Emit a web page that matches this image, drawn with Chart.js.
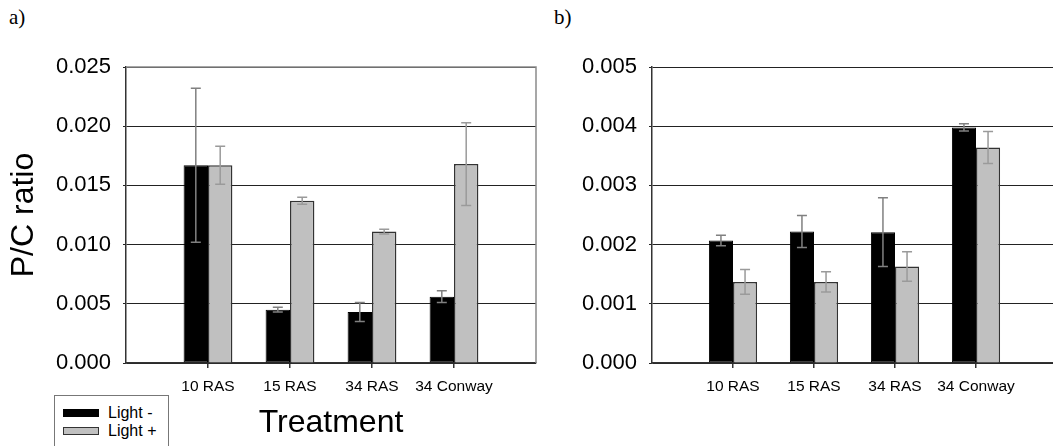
<!DOCTYPE html>
<html>
<head>
<meta charset="utf-8">
<script src="https://cdn.jsdelivr.net/npm/chart.js@4"></script>
<style>
  html, body { margin: 0; padding: 0; background: #fff; overflow: hidden; }
  body { width: 1053px; height: 446px; position: relative; font-family: "Liberation Sans", Arial, sans-serif; }
  canvas { position: absolute; top: 0; }
  #chartA { left: 0; }
  #chartB { left: 545px; }
  .panel-tag { position: absolute; top: 5px; font-family: "Liberation Serif", "Times New Roman", serif; font-size: 21px; color: #000; }
  #legendA { position: absolute; left: 54px; top: 395px; width: 115px; height: 60px; border: 1.5px solid #777; box-sizing: border-box; background: #fff; }
  .legend-item { position: absolute; left: 8px; height: 16px; display: flex; align-items: center; font-size: 16px; color: #000; }
  .legend-item .swatch { width: 36px; height: 8px; box-sizing: border-box; margin-right: 9px; }
</style>
</head>
<body>
<div class="panel-tag" style="left: 9px;">a)</div>
<div class="panel-tag" style="left: 554px;">b)</div>
<canvas id="chartA" width="545" height="446"></canvas>
<canvas id="chartB" width="530" height="446"></canvas>
<div id="legendA"></div>

<script>
// treatments on the x axis
const categories = ["10 RAS", "15 RAS", "34 RAS", "34 Conway"];
const seriesNames = ["Light -", "Light +"];

// panel a) P/C ratio, means and error
const aLightMinus = [0.0167, 0.0045, 0.0043, 0.0056];
const aLightMinusErr = [0.0065, 0.0002, 0.0008, 0.0005];
const aLightPlus = [0.0167, 0.0137, 0.0111, 0.0168];
const aLightPlusErr = [0.0016, 0.0003, 0.0002, 0.0035];

// panel b)
const bLightMinus = [0.00207, 0.00222, 0.00221, 0.00398];
const bLightMinusErr = [0.00009, 0.00027, 0.00058, 0.00006];
const bLightPlus = [0.00137, 0.00137, 0.00163, 0.00364];
const bLightPlusErr = [0.00021, 0.00017, 0.00025, 0.00027];

// y ticks
const aTicks = { max: 0.025, step: 0.005 };
const bTicks = { max: 0.005, step: 0.001 };

Chart.defaults.font.family = '"Liberation Sans", Arial, sans-serif';
Chart.defaults.color = "#000";

// empty slot on each side so the treatments sit at 1..4 of a 0..5 axis
const axisLabels = ["", ...categories, ""];
const pad = (arr) => [null, ...arr, null];

// error bars drawn through each bar
const errorBarPlugin = {
  id: "errorBars",
  afterDatasetsDraw(chart) {
    const ctx = chart.ctx;
    const yScale = chart.scales.y;
    chart.data.datasets.forEach((ds, i) => {
      if (!ds.errors) return;
      const meta = chart.getDatasetMeta(i);
      ctx.save();
      ctx.strokeStyle = ds.errorColor;
      ctx.lineWidth = 1.5;
      meta.data.forEach((bar, j) => {
        const v = ds.data[j];
        if (v == null) return;
        const err = ds.errors[j - 1];
        const x = bar.x;
        const yTop = yScale.getPixelForValue(v + err);
        const yBot = yScale.getPixelForValue(v - err);
        const cap = 5;
        ctx.beginPath();
        ctx.moveTo(x, yTop);
        ctx.lineTo(x, yBot);
        ctx.moveTo(x - cap, yTop);
        ctx.lineTo(x + cap, yTop);
        ctx.moveTo(x - cap, yBot);
        ctx.lineTo(x + cap, yBot);
        ctx.stroke();
      });
      ctx.restore();
    });
  },
};

// grey top and right edge around the plot area of panel a
const framePlugin = {
  id: "plotFrame",
  afterDraw(chart) {
    const { top, right, bottom, left } = chart.chartArea;
    const ctx = chart.ctx;
    ctx.save();
    ctx.strokeStyle = "#8a8a8a";
    ctx.lineWidth = 1.5;
    ctx.beginPath();
    ctx.moveTo(left, top);
    ctx.lineTo(right, top);
    ctx.lineTo(right, bottom);
    ctx.stroke();
    ctx.restore();
  },
};

function makeChart(canvasId, minus, minusErr, plus, plusErr, ticks, opts) {
  return new Chart(document.getElementById(canvasId), {
    type: "bar",
    data: {
      labels: axisLabels,
      datasets: [
        {
          label: seriesNames[0],
          data: pad(minus),
          errors: minusErr,
          errorColor: "#808080",
          backgroundColor: "#000000",
          borderColor: "#000000",
          borderWidth: 1,
          borderSkipped: false,
        },
        {
          label: seriesNames[1],
          data: pad(plus),
          errors: plusErr,
          errorColor: "#9a9a9a",
          backgroundColor: "#c0c0c0",
          borderColor: "#333333",
          borderWidth: 1.5,
          borderSkipped: "bottom",
        },
      ],
    },
    options: {
      responsive: false,
      animation: false,
      devicePixelRatio: 1,
      categoryPercentage: 0.595,
      barPercentage: 1,
      layout: { padding: { top: 67, left: 0, bottom: 0, right: opts.padRight } },
      plugins: {
        legend: { display: false },
        tooltip: { enabled: false },
      },
      scales: {
        x: {
          offset: false,
          grid: {
            offset: false,
            drawOnChartArea: false,
            drawTicks: true,
            tickLength: 5,
            lineWidth: 1.5,
            color: (c) =>
              c.index === 0 || c.index === axisLabels.length - 1 ? "rgba(0,0,0,0)" : "#333",
          },
          border: { display: true, color: "#333", width: 1.5 },
          ticks: { font: { size: 15.5 }, padding: 9, maxRotation: 0, autoSkip: false },
          title: {
            display: !!opts.xTitle,
            text: opts.xTitle,
            font: { size: 32 },
            padding: { top: 0, bottom: 4 },
          },
          afterFit: (scale) => {
            scale.height = 83;
          },
        },
        y: {
          min: 0,
          max: ticks.max,
          grid: {
            color: "#222",
            lineWidth: 1,
            drawTicks: true,
            tickLength: 3,
          },
          border: { display: true, color: "#333", width: 1.5 },
          ticks: {
            stepSize: ticks.step,
            font: { size: 22 },
            padding: 12,
            callback: (v) => v.toFixed(3),
          },
          title: {
            display: !!opts.yTitle,
            text: opts.yTitle,
            font: { size: 32 },
            padding: { top: 5, bottom: 0 },
          },
          afterFit: (scale) => {
            scale.width = opts.yWidth;
          },
        },
      },
    },
    plugins: opts.framed ? [errorBarPlugin, framePlugin] : [errorBarPlugin],
  });
}

const chartA = makeChart("chartA", aLightMinus, aLightMinusErr, aLightPlus, aLightPlusErr, aTicks, {
  padRight: 8,
  yWidth: 126,
  yTitle: "P/C ratio",
  xTitle: "Treatment",
  framed: true,
});

// panel b runs a little past the right edge of the page
const chartB = makeChart("chartB", bLightMinus, bLightMinusErr, bLightPlus, bLightPlusErr, bTicks, {
  padRight: 18,
  yWidth: 107,
  yTitle: "",
  xTitle: "",
  framed: false,
});

// legend box under panel a, built from the datasets
const legendEl = document.getElementById("legendA");
chartA.data.datasets.forEach((ds, i) => {
  const item = document.createElement("div");
  item.className = "legend-item";
  item.style.top = 9 + i * 18 + "px";
  const swatch = document.createElement("span");
  swatch.className = "swatch";
  swatch.style.background = ds.backgroundColor;
  swatch.style.border = "1.5px solid " + ds.borderColor;
  const text = document.createElement("span");
  text.textContent = ds.label;
  item.appendChild(swatch);
  item.appendChild(text);
  legendEl.appendChild(item);
});
</script>
</body>
</html>
